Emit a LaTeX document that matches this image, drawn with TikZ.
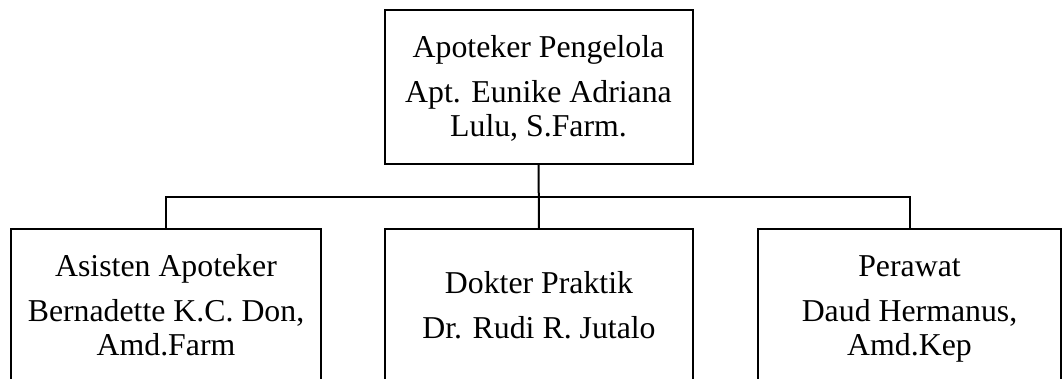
\documentclass[tikz,border=0pt]{standalone}
\usepackage{fontspec}
\setmainfont{Liberation Serif}
\usepackage{tikz}
\usetikzlibrary{positioning}
\newcommand{\barisatas}{\rule{0pt}{27pt}}
\newcommand{\barisbawah}{\rule[-8pt]{0pt}{8pt}}
\tikzset{x=1pt,y=1pt,
  jabatan/.style={draw,rectangle,align=center,inner sep=0pt,
    minimum height=154pt,font=\fontsize{31.8}{34}\selectfont}}

\begin{document}
\begin{tikzpicture}[line width=2pt]
    \useasboundingbox (0,0) rectangle (1062,-378);
    \clip (0,0) rectangle (1062,-378);
    \node[jabatan,minimum width=308pt] (apt) at (538.5,-87)
        {\barisatas Apoteker Pengelola\\[11pt]Apt. Eunike Adriana\\Lulu, S.Farm.\barisbawah};
    \node[jabatan,minimum width=310pt] (aa) at (166,-306)
        {\barisatas Asisten Apoteker\\[11pt]Bernadette K.C. Don,\\Amd.Farm\barisbawah};
    \node[jabatan,minimum width=308pt] (dok) at (539,-306)
        {\barisatas Dokter Praktik\\[11pt]Dr. Rudi R. Jutalo\barisbawah};
    \node[jabatan,minimum width=303pt] (prw) at (909.5,-306)
        {\barisatas Perawat\\[11pt]Daud Hermanus,\\Amd.Kep\barisbawah};
    \coordinate (bar) at (539,-197);
    \draw (apt) -- (dok);
    \draw (aa) |- (bar) -| (prw);
\end{tikzpicture}
\end{document}
